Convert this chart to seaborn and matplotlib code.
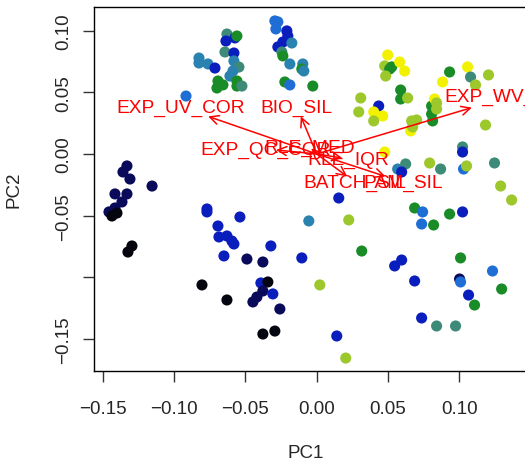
import matplotlib
matplotlib.use('Agg')
import matplotlib.pyplot as plt
import seaborn as sns
import pandas as pd

# PCA scores (PC1, PC2) and a colour group for each sample
pc1 = [-0.0917, -0.0630, -0.0637, -0.0574, -0.0560, -0.0644, -0.0581, -0.0581, -0.0826, -0.0826,
       -0.0763, -0.0714, -0.0546, -0.0588, -0.0609, -0.0693, -0.0658, -0.0700, -0.0560, -0.0560,
       -0.0525, -0.0294, -0.0273, -0.0287, -0.0210, -0.0203, -0.0238, -0.0175, -0.0273, -0.0245,
       -0.0238, -0.0189, -0.0098, -0.0105, -0.0224, -0.0189, -0.0028, -0.0091, 0.0497, 0.0476,
       0.0525, 0.0511, 0.0581, 0.0616, 0.0483, 0.0588, 0.0588, 0.0637, 0.0308, 0.0294,
       0.0434, 0.0399, 0.0462, 0.0399, 0.0665, 0.0700, 0.0658, 0.0672, 0.0805, 0.0826,
       0.0840, 0.0805, 0.0812, 0.0840, 0.0882, 0.0931, 0.1057, 0.1078, 0.1113, 0.1204,
       0.1183, 0.0476, 0.1022, 0.1022, 0.1246, 0.0567, 0.0623, 0.0595, 0.0791, 0.0868,
       0.1029, 0.1050, 0.1289, 0.1366, 0.0154, -0.0056, 0.0224, 0.0686, 0.0742, 0.0735,
       0.0819, 0.0931, 0.1022, -0.0105, 0.0315, 0.0595, 0.0546, 0.1008, 0.1232, 0.0021,
       0.0686, 0.1001, 0.1008, 0.1064, 0.1106, 0.1296, 0.0735, 0.0840, 0.0973, 0.0140,
       0.0203, -0.1331, -0.1359, -0.1310, -0.1155, -0.1415, -0.1331, -0.1366, -0.1415, -0.1457,
       -0.1401, -0.1436, -0.1296, -0.1324, -0.0770, -0.0770, -0.0539, -0.0693, -0.0686, -0.0630,
       -0.0595, -0.0581, -0.0322, -0.0651, -0.0490, -0.0378, -0.0805, -0.0630, -0.0392, -0.0343,
       -0.0378, -0.0308, -0.0420, -0.0448, -0.0259, -0.0378, -0.0294]
pc2 = [0.0470, 0.0973, 0.0916, 0.0941, 0.0957, 0.0827, 0.0819, 0.0754, 0.0778, 0.0738,
       0.0730, 0.0697, 0.0705, 0.0673, 0.0632, 0.0592, 0.0560, 0.0535, 0.0592, 0.0551,
       0.0551, 0.1079, 0.1071, 0.1014, 0.0998, 0.0957, 0.0908, 0.0900, 0.0868, 0.0827,
       0.0795, 0.0730, 0.0730, 0.0689, 0.0584, 0.0560, 0.0551, 0.0673, 0.0803, 0.0714,
       0.0706, 0.0689, 0.0746, 0.0673, 0.0632, 0.0519, 0.0446, 0.0454, 0.0454, 0.0341,
       0.0389, 0.0341, 0.0308, 0.0268, 0.0268, 0.0276, 0.0187, 0.0219, 0.0389, 0.0446,
       0.0414, 0.0324, 0.0268, 0.0365, 0.0584, 0.0665, 0.0706, 0.0624, 0.0560, 0.0641,
       0.0235, 0.0016, 0.0057, 0.0016, -0.0073, -0.0122, -0.0081, -0.0146, -0.0073, -0.0122,
       -0.0122, -0.0097, -0.0260, -0.0373, -0.0357, -0.0543, -0.0535, -0.0438, -0.0470, -0.0568,
       -0.0576, -0.0487, -0.0470, -0.0843, -0.0787, -0.0860, -0.0908, -0.0843, -0.0949, -0.1062,
       -0.1030, -0.1014, -0.1038, -0.1144, -0.1225, -0.1095, -0.1330, -0.1395, -0.1395, -0.1476,
       -0.1655, -0.0097, -0.0146, -0.0203, -0.0260, -0.0324, -0.0324, -0.0389, -0.0438, -0.0470,
       -0.0479, -0.0503, -0.0746, -0.0795, -0.0446, -0.0470, -0.0511, -0.0584, -0.0673, -0.0665,
       -0.0706, -0.0730, -0.0746, -0.0827, -0.0852, -0.0876, -0.1062, -0.1184, -0.1046, -0.1038,
       -0.1111, -0.1135, -0.1160, -0.1200, -0.1257, -0.1460, -0.1436]
group = [3, 5, 2, 2, 6, 5, 2, 4, 4, 4,
         4, 2, 5, 4, 4, 6, 6, 6, 6, 6,
         5, 3, 3, 3, 2, 2, 2, 4, 2, 5,
         6, 4, 4, 6, 6, 3, 6, 4, 8, 7,
         6, 6, 8, 8, 7, 6, 6, 7, 7, 7,
         2, 8, 8, 7, 7, 7, 8, 7, 6, 8,
         7, 6, 6, 7, 8, 6, 8, 5, 7, 7,
         7, 8, 5, 2, 5, 4, 5, 2, 7, 5,
         3, 7, 7, 7, 2, 4, 7, 6, 3, 3,
         6, 6, 2, 2, 6, 2, 2, 6, 3, 7,
         2, 1, 3, 2, 6, 6, 2, 5, 5, 2,
         7, 1, 1, 1, 1, 1, 1, 1, 1, 1,
         0, 0, 0, 0, 2, 2, 2, 2, 2, 2,
         2, 2, 2, 2, 1, 1, 0, 0, 2, 0,
         1, 2, 1, 1, 1, 0, 0]
group_colors = {0: '#05050f', 1: '#0a0a5a', 2: '#0a1ebe', 3: '#1e6ed6', 4: '#2a82b0',
                5: '#3d8a78', 6: '#198c28', 7: '#9cc82c', 8: '#f2f200'}

# loading arrows (label positions; arrows drawn to 80% of them)
var_names = ['EXP_UV_COR', 'BIO_SIL', 'EXP_WV_COR', 'EXP_QC_COR', 'RLE_MED',
             'RLE_IQR', 'BATCH_SIL', 'PAM_SIL']
var_pc1 = [-0.0952, -0.0140, 0.1359, -0.0357, -0.0049, 0.0224, 0.0266, 0.0602]
var_pc2 = [0.0381, 0.0381, 0.0470, 0.0041, 0.0057, -0.0041, -0.0227, -0.0227]

df = pd.DataFrame({'PC1': pc1, 'PC2': pc2, 'group': group})

sns.set_style('white')
plt.rcParams['font.family'] = ['Liberation Sans', 'DejaVu Sans']

fig = plt.figure(figsize=(5.25, 4.6), dpi=100)
ax = fig.add_axes([94 / 525, 88 / 460, 451 / 525, 364 / 460])

sns.scatterplot(data=df, x='PC1', y='PC2', hue='group', palette=group_colors,
                s=64, linewidth=0, legend=False, ax=ax)

for name, vx, vy in zip(var_names, var_pc1, var_pc2):
    ax.annotate('', xy=(vx * 0.8, vy * 0.8), xytext=(0, 0),
                arrowprops=dict(arrowstyle='->', color='red', lw=1.1,
                                mutation_scale=16, shrinkA=0, shrinkB=0))
    ax.text(vx, vy, name, color='red', fontsize=13.8, ha='center', va='center')

ax.set_xlim(-0.1562, 0.16)
ax.set_ylim(-0.176, 0.1192)

xt = [-0.15, -0.10, -0.05, 0.00, 0.05, 0.10]
ax.set_xticks(xt)
ax.set_xticklabels([f'{v:.2f}'.replace('-', '\u2212') for v in xt])
yt = [-0.15, -0.10, -0.05, 0.00, 0.05, 0.10]
ax.set_yticks(yt)
ax.set_yticklabels([('' if v == -0.10 else f'{v:.2f}'.replace('-', '\u2212')) for v in yt],
                   rotation=90, va='center')

ax.tick_params(direction='out', length=8, width=1, labelsize=13.5,
               bottom=True, left=True, color='#333333')
ax.tick_params(axis='x', pad=13)
ax.tick_params(axis='y', pad=8)
for sp in ax.spines.values():
    sp.set_color('black')
    sp.set_linewidth(1)

ax.set_xlabel('PC1', fontsize=13.5)
ax.set_ylabel('PC2', fontsize=13.5)
ax.xaxis.set_label_coords((306 - 94) / 451, -(445 - 372) / 364)
ax.yaxis.set_label_coords(-(94 - 23) / 451, (372 - 190) / 364)

fig.savefig('out.png', dpi=100)
